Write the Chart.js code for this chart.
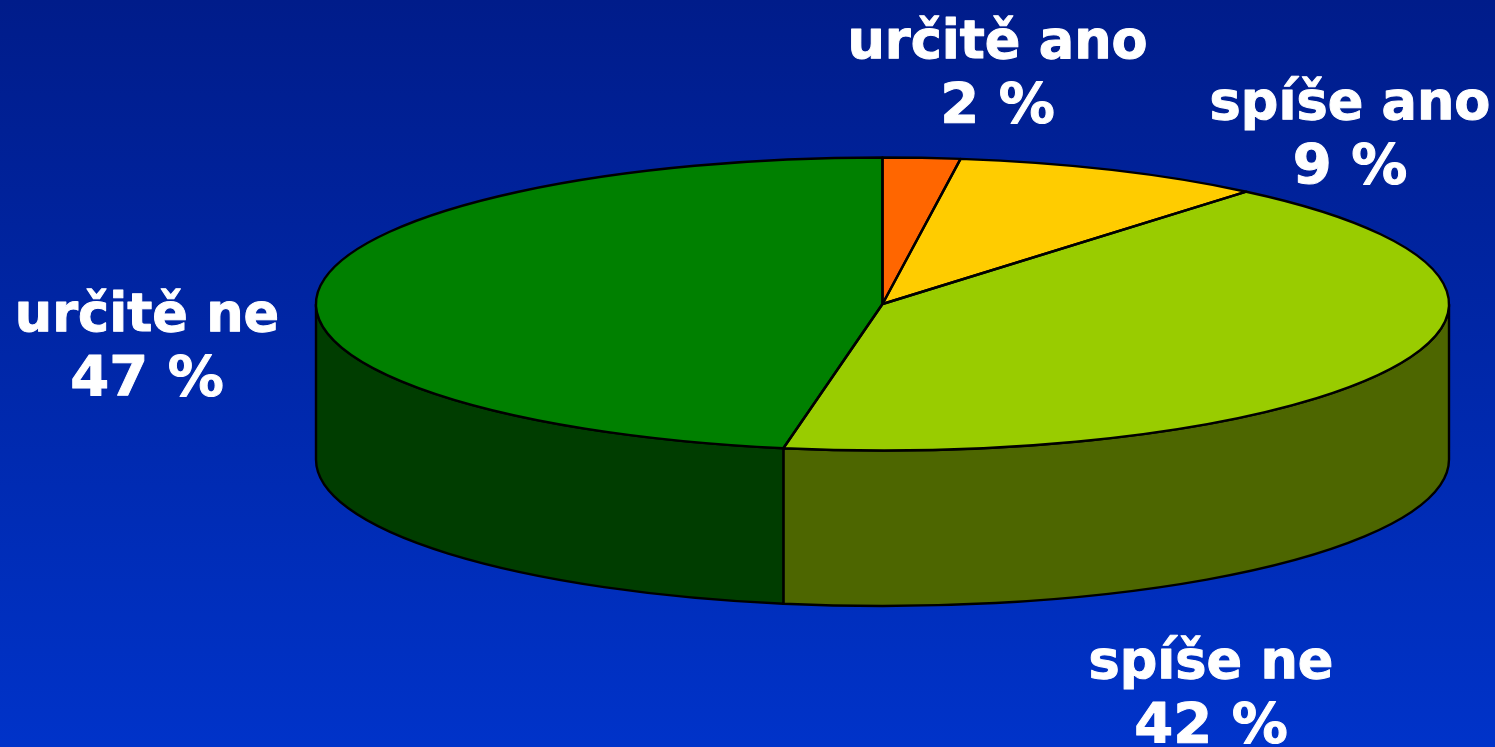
<!DOCTYPE html>
<html><head><meta charset="utf-8">
<style>html,body{margin:0;padding:0;overflow:hidden}canvas{display:block}</style>
<script src="https://cdn.jsdelivr.net/npm/chart.js@4"></script>
</head><body><canvas id="c" width="1495" height="747"></canvas>
<script>
const categories = ["určitě ano", "spíše ano", "spíše ne", "určitě ne"];
const percents = [2.2, 8.9, 41.7, 47.2];
const percentLabels = ["2 %", "9 %", "42 %", "47 %"];
const topColors = ["#FF6600", "#FFCC00", "#99CC00", "#008000"];
const sideColors = ["#803300", "#806600", "#4D6600", "#003D00"];
const labelCenters = [[997.5, 44], [1350, 105], [1211, 664], [147, 317]];

const CX = 882.5, CY = 304, RX = 566.5, RY = 146.5, DEPTH = 155.5;

function wall(ctx, a0, a1, color) {
  const s = Math.max(a0, 0), e = Math.min(a1, Math.PI);
  if (e <= s) return;
  ctx.beginPath();
  ctx.ellipse(CX, CY, RX, RY, 0, s, e, false);
  ctx.ellipse(CX, CY + DEPTH, RX, RY, 0, e, s, true);
  ctx.closePath();
  ctx.fillStyle = color;
  ctx.fill();
  ctx.strokeStyle = "#000";
  ctx.lineWidth = 2.4;
  ctx.stroke();
}

const pie3d = {
  id: "pie3d",
  beforeDraw(chart) {
    const { ctx, width, height } = chart;
    const g = ctx.createLinearGradient(0, 0, 0, height);
    g.addColorStop(0, "#001C8A");
    g.addColorStop(1, "#0033C9");
    ctx.fillStyle = g;
    ctx.fillRect(0, 0, width, height);
  },
  beforeDatasetsDraw(chart) {
    const { ctx } = chart;
    const arcs = chart.getDatasetMeta(0).data;
    arcs.forEach((arc, i) => {
      const p = arc.getProps(["startAngle", "endAngle"], true);
      wall(ctx, p.startAngle, p.endAngle, sideColors[i]);
      wall(ctx, p.startAngle - 2 * Math.PI, p.endAngle - 2 * Math.PI, sideColors[i]);
    });
    const a = arcs[0];
    ctx.save();
    ctx.translate(CX, CY);
    ctx.scale(RX / a.outerRadius, RY / a.outerRadius);
    ctx.translate(-a.x, -a.y);
  },
  afterDatasetsDraw(chart) {
    const { ctx } = chart;
    ctx.restore();
    const arcs = chart.getDatasetMeta(0).data;
    ctx.strokeStyle = "#000";
    ctx.lineWidth = 2.4;
    ctx.lineJoin = "round";
    arcs.forEach((arc) => {
      const p = arc.getProps(["startAngle", "endAngle"], true);
      ctx.beginPath();
      ctx.moveTo(CX, CY);
      ctx.ellipse(CX, CY, RX, RY, 0, p.startAngle, p.endAngle, false);
      ctx.closePath();
      ctx.stroke();
    });
    ctx.fillStyle = "#fff";
    ctx.strokeStyle = "#fff";
    ctx.lineWidth = 1;
    ctx.textAlign = "center";
    ctx.textBaseline = "middle";
    chart.data.labels.forEach((name, i) => {
      const [x, y] = labelCenters[i];
      ctx.font = "bold 52.5px 'DejaVu Sans'";
      ctx.fillText(name, x, y);
      ctx.strokeText(name, x, y);
      ctx.font = "bold 56px 'DejaVu Sans'";
      ctx.fillText(percentLabels[i], x, y + 63);
      ctx.strokeText(percentLabels[i], x, y + 63);
    });
  }
};

new Chart(document.getElementById("c"), {
  type: "pie",
  data: {
    labels: categories,
    datasets: [{ data: percents, backgroundColor: topColors, borderWidth: 0, hoverOffset: 0 }]
  },
  options: {
    responsive: false,
    animation: false,
    rotation: 0,
    layout: { padding: 0 },
    plugins: { legend: { display: false }, tooltip: { enabled: false }, title: { display: false } }
  },
  plugins: [pie3d]
});
</script></body></html>
